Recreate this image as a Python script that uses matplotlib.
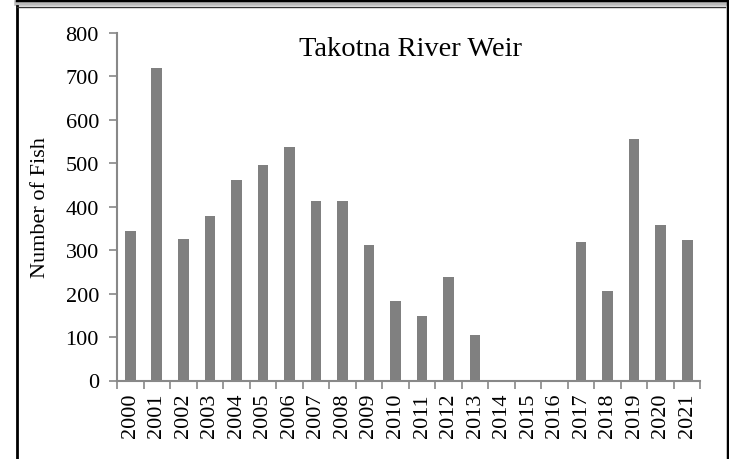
import matplotlib
matplotlib.use("Agg")
import matplotlib.pyplot as plt
from matplotlib.lines import Line2D
import numpy as np

plt.rcParams['font.family'] = ['Liberation Serif', 'DejaVu Serif']

years = [str(y) for y in range(2000, 2022)]
fish = [345, 720, 325, 378, 462, 497, 537, 413, 413, 312, 183, 148,
        238, 105, 0, 0, 0, 318, 205, 556, 358, 323]

W, H = 729, 460
fig = plt.figure(figsize=(W / 100, H / 100), dpi=100)
ax = fig.add_axes([117 / W, 1 - 381.5 / H, (700.5 - 117) / W, (381.5 - 34) / H])

x = np.arange(len(years))
ax.bar(x, fish, width=0.4, color='#808080', zorder=2)

ax.set_xlim(-0.5, len(years) - 0.5)
ax.set_ylim(0, 800)
ax.set_yticks(range(0, 801, 100))
ax.set_xticks(x)
ax.set_xticklabels(years, rotation=90, fontsize=16)
ax.tick_params(axis='y', labelsize=16, length=6, color='#888888', width=1.2, pad=7)
ax.tick_params(axis='x', length=0, pad=9)
# category boundary ticks
ax.set_xticks(np.arange(-0.5, len(years), 1), minor=True)
ax.tick_params(axis='x', which='minor', length=6, color='#888888', width=1.2)

for s in ['top', 'right']:
    ax.spines[s].set_visible(False)
for s in ['left', 'bottom']:
    ax.spines[s].set_color('#888888')
    ax.spines[s].set_linewidth(1.5)

ax.set_ylabel('Number of Fish', fontsize=16, labelpad=11)
ax.text(0.503, 0.99, 'Takotna River Weir', transform=ax.transAxes,
        ha='center', va='top', fontsize=20.5)

# outer frame
def fl(xs, ys, **kw):
    fig.add_artist(Line2D([v / W for v in xs], [1 - v / H for v in ys],
                          transform=fig.transFigure, **kw))

fl([17, 729], [4, 4], color='#bbbbbb', lw=4)
fl([17, 729], [1, 1], color='black', lw=2.5)
fl([17, 17], [7, 460], color='black', lw=2)
fl([17, 725], [7.5, 7.5], color='#333333', lw=1)
fl([727.5, 727.5], [2, 460], color='black', lw=2.5)

fig.savefig('out.png', dpi=100)
